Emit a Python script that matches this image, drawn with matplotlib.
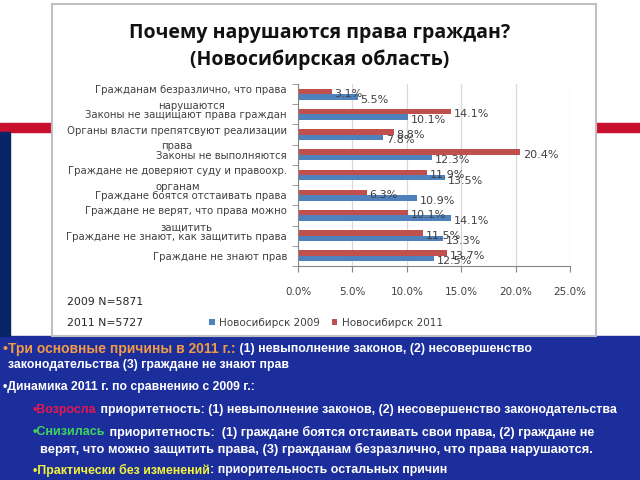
import matplotlib
matplotlib.use("Agg")
import matplotlib.pyplot as plt
from matplotlib.patches import Rectangle
import numpy as np

# data
categories = [
    "Гражданам безразлично, что права\nнарушаются",
    "Законы не защищают права граждан",
    "Органы власти препятсвуют реализации\nправа",
    "Законы не выполняются",
    "Граждане не доверяют суду и правоохр.\nорганам",
    "Граждане боятся отстаивать права",
    "Граждане не верят, что права можно\nзащитить",
    "Граждане не знают, как защитить права",
    "Граждане не знают прав",
]
v2009 = [5.5, 10.1, 7.8, 12.3, 13.5, 10.9, 14.1, 13.3, 12.5]
v2011 = [3.1, 14.1, 8.8, 20.4, 11.9, 6.3, 10.1, 11.5, 13.7]
series_names = ["Новосибирск 2009", "Новосибирск 2011"]
xticks = [0, 5, 10, 15, 20, 25]
sample_notes = ["2009 N=5871", "2011 N=5727"]

BLUE = "#4F81BD"
RED = "#C0504D"
GREY = "#404040"

W, H = 640, 480
fig = plt.figure(figsize=(6.4, 4.8), dpi=100)
fig.patch.set_facecolor("white")


def box(x0, y0, x1, y1, **kw):
    # pixel coords, origin top-left
    fig.patches.append(Rectangle((x0 / W, 1 - y1 / H), (x1 - x0) / W, (y1 - y0) / H,
                                 transform=fig.transFigure, zorder=-5, **kw))


# slide decoration
box(0, 336, 640, 480, color="#1B2E9C")
box(0, 123, 52, 132, color="#C8102E")
box(596, 123, 640, 132, color="#C8102E")
box(0, 132, 10, 336, color="#0A2468")
box(52, 4, 596, 336, facecolor="white", edgecolor="#BFBFBF", lw=1.5)

# title
fig.text(320 / W, 1 - 33 / H, "Почему нарушаются права граждан?", ha="center", va="center",
         fontsize=14, fontweight="bold", family="Open Sans", color="#111111")
fig.text(320 / W, 1 - 60 / H, "(Новосибирская область)", ha="center", va="center",
         fontsize=14, fontweight="bold", family="Open Sans", color="#111111")

# chart
ax = fig.add_axes([298 / W, 1 - 266 / H, 272 / W, 182 / H], zorder=2)
ax.patch.set_alpha(0)
y = np.arange(len(categories))
bh = 0.27
b1 = ax.barh(y + bh / 2, v2009, height=bh, color=BLUE, zorder=2)
b2 = ax.barh(y - bh / 2, v2011, height=bh, color=RED, zorder=2)

for i in range(len(categories)):
    ax.annotate(f"{v2011[i]:.1f}%", (v2011[i], i - bh / 2), xytext=(2, -2),
                textcoords="offset points", va="center", fontsize=8, color=GREY, zorder=3)
    ax.annotate(f"{v2009[i]:.1f}%", (v2009[i], i + bh / 2), xytext=(2, -2),
                textcoords="offset points", va="center", fontsize=8, color=GREY, zorder=3)

ax.set_xlim(0, 25)
ax.set_ylim(len(categories) - 0.5, -0.5)
ax.set_xticks(xticks)
ax.set_xticklabels([f"{v:.1f}%" for v in xticks], fontsize=7.5, color=GREY)
ax.set_yticks(y)
ax.set_yticklabels(categories, fontsize=7.3, color=GREY)
for t in ax.get_yticklabels():
    t.set_multialignment("center")
    t.set_linespacing(1.7)
ax.set_yticks(np.arange(-0.5, len(categories)), minor=True)
ax.tick_params(axis="y", which="major", length=0, pad=8)
ax.tick_params(axis="y", which="minor", length=4, color="#868686")
ax.tick_params(axis="x", length=4, color="#868686", pad=11)
ax.grid(axis="x", color="#D9D9D9", lw=0.9, zorder=0)
ax.set_axisbelow(True)
for s in ["top", "right"]:
    ax.spines[s].set_visible(False)
for s in ["left", "bottom"]:
    ax.spines[s].set_color("#868686")

fig.legend([b1, b2], series_names, loc="center", bbox_to_anchor=(326 / W, 1 - 323 / H),
           ncol=2, frameon=False, fontsize=7.5, handlelength=0.5, handleheight=0.5,
           handletextpad=0.4, columnspacing=1.2, labelcolor=GREY)

fig.text(67 / W, 1 - 302 / H, sample_notes[0], fontsize=7.8, color="#262626", va="center")
fig.text(67 / W, 1 - 323 / H, sample_notes[1], fontsize=7.8, color="#262626", va="center")

# bottom text block: (left px, centre px, right edge px, segments)
WHITE = "white"
ORANGE = "#F39A45"
PINK = "#E8174F"
GREEN = "#3FD35C"
YELLOW = "#F2F23A"
lines = [
    (3, 349, 534, [("•Три основные причины в 2011 г.:", ORANGE, 1.12),
                   (" (1) невыполнение законов, (2) несовершенство", WHITE, 1.0)]),
    (8, 365, 289, [("законодательства (3) граждане не знают прав", WHITE, 1.0)]),
    (3, 387, 255, [("•Динамика 2011 г. по сравнению с 2009 г.:", WHITE, 1.0)]),
    (33, 410, 615, [("•Возросла", PINK, 1.0),
                    (" приоритетность: (1) невыполнение законов, (2) несовершенство законодательства", WHITE, 1.0)]),
    (33, 432, 593, [("•Снизилась", GREEN, 1.0),
                    (" приоритетность:  (1) граждане боятся отстаивать свои права, (2) граждане не", WHITE, 1.0)]),
    (40, 449, 598, [("верят, что можно защитить права, (3) гражданам безразлично, что права нарушаются.", WHITE, 1.0)]),
    (33, 470, 448, [("•Практически без изменений", YELLOW, 1.0),
                    (": приорительность остальных причин", WHITE, 1.0)]),
]
fam = ["Liberation Sans Narrow", "Liberation Sans"]
renderer = fig.canvas.get_renderer()
base = 9.0
for x0, y0, x1, segs in lines:
    # measure at base size, then scale to the width seen on the slide
    tot = 0
    for txt, col, k in segs:
        t = fig.text(0, 0, txt, fontsize=base * k, fontweight="bold", family=fam)
        tot += t.get_window_extent(renderer).width
        t.remove()
    scale = min((x1 - x0) / tot, 1.15)
    x = x0
    for txt, col, k in segs:
        t = fig.text(x / W, 1 - y0 / H, txt, color=col, fontsize=base * k * scale,
                     fontweight="bold", family=fam, va="center", ha="left")
        x += t.get_window_extent(renderer).width

fig.savefig("out.png", dpi=100)
